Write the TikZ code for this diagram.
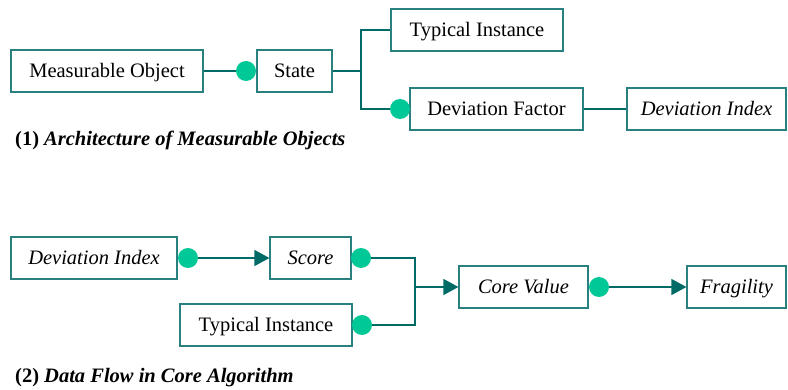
\documentclass[tikz,border=0pt]{standalone}
\usepackage{fontspec}
\setmainfont{Liberation Serif}
\usetikzlibrary{arrows.meta}
\definecolor{boxline}{HTML}{2A7F7F}
\definecolor{dotc}{HTML}{00C896}
\definecolor{arrc}{HTML}{006A66}
\begin{document}
\begin{tikzpicture}[x=1pt,y=-1pt,
  box/.style={draw=boxline,line width=1.2pt,rectangle,minimum height=42pt,inner sep=0pt,
    font=\fontsize{20.5}{24}\selectfont,text height=16pt,text depth=2pt},
  dot/.style={circle,fill=dotc,minimum size=20pt,inner sep=0pt},
  conn/.style={draw=arrc,line width=1.4pt},
  arr/.style={conn,-{Triangle[length=15pt,width=16pt]}},
  captext/.style={anchor=west,font=\fontsize{20.5}{24}\selectfont,inner sep=0pt}]
\useasboundingbox (0,0) rectangle (788,390);
% part 1
\node[box,minimum width=192pt] (mo) at (107,71) {Measurable Object};
\node[box,minimum width=75pt] (st) at (294.5,71) {State};
\node[box,minimum width=172pt] (ti1) at (477,30) {Typical Instance};
\node[box,minimum width=173pt] (df) at (496.5,109) {Deviation Factor};
\node[box,minimum width=159pt] (di1) at (706.5,109) {\itshape Deviation Index};
\node[dot] (d1) at (246,71) {};
\node[dot] (d2) at (400,109) {};
\coordinate (j1) at (361,71);
\draw[conn] (mo.east) -- (d1.west);
\draw[conn] (st.east) -- (j1);
\draw[conn] (j1) |- (ti1.west);
\draw[conn] (j1) |- (d2.west);
\draw[conn] (df.east) -- (di1.west);
\node[captext] (c1) at (15,140) {\textbf{(1) \textit{Architecture of Measurable Objects}}};
% part 2
\node[box,minimum width=166pt] (di2) at (94,258) {\itshape Deviation Index};
\node[box,minimum width=81pt] (sc) at (310.5,258) {\itshape Score};
\node[box,minimum width=172pt] (ti2) at (266,325) {Typical Instance};
\node[box,minimum width=129pt] (cv) at (523.5,287) {\itshape Core Value};
\node[box,minimum width=99pt] (fr) at (736.5,287) {\itshape Fragility};
\node[dot] (d3) at (188,258) {};
\node[dot] (d4) at (361,258) {};
\node[dot] (d5) at (362,325) {};
\node[dot] (d6) at (599,287) {};
\coordinate (j2) at (415,287);
\draw[arr] (d3.east) -- (sc.west);
\draw[conn] (d4.east) -| (j2);
\draw[conn] (d5.east) -| (j2);
\draw[arr] (j2) -- (cv.west);
\draw[arr] (d6.east) -- (fr.west);
\node[captext] (c2) at (15,378) {\textbf{(2) \textit{Data Flow in Core Algorithm}}};
\end{tikzpicture}
\end{document}
